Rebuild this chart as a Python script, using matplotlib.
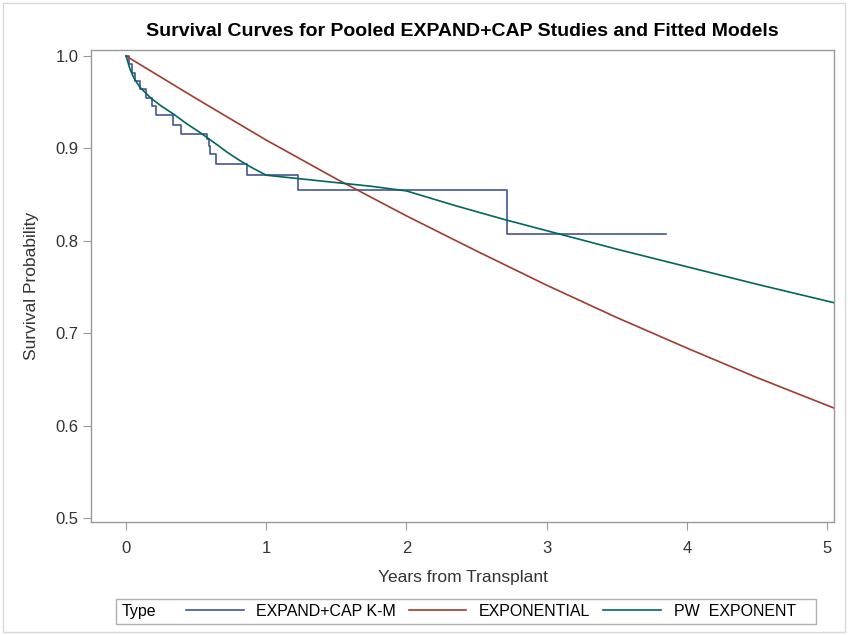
import numpy as np
import matplotlib
matplotlib.use("Agg")
import matplotlib.pyplot as plt
from matplotlib.patches import Rectangle
from matplotlib.lines import Line2D

plt.rcParams['font.family'] = ['Liberation Sans', 'DejaVu Sans']

# Kaplan-Meier estimate for the pooled studies (step changes)
km_years = [0.0, 0.02, 0.04, 0.065, 0.10, 0.145, 0.183, 0.217, 0.336, 0.395,
            0.574, 0.593, 0.60, 0.64, 0.86, 1.224, 2.717, 3.855]
km_surv = [1.000, 0.991, 0.982, 0.973, 0.964, 0.955, 0.946, 0.936, 0.925, 0.916,
           0.910, 0.903, 0.894, 0.883, 0.871, 0.855, 0.807, 0.807]

# fitted exponential model
exp_years = [0.0, 0.5, 1.0, 1.5, 2.0, 2.5, 3.0, 3.5, 4.0, 4.5, 5.05]
exp_surv = [1.000, 0.954, 0.909, 0.867, 0.827, 0.789, 0.752, 0.717, 0.684, 0.652, 0.619]

# fitted piecewise exponential model
pw_years = [0.0, 0.03, 0.06, 0.10, 0.18, 0.25, 0.34, 0.43, 0.52, 0.64, 0.72,
            0.81, 0.90, 1.0, 1.25, 1.5, 1.75, 2.0, 2.35, 2.7, 3.1, 3.5, 4.0,
            4.5, 5.05]
pw_surv = [1.000, 0.985, 0.975, 0.966, 0.954, 0.946, 0.937, 0.927, 0.918, 0.905,
           0.896, 0.887, 0.879, 0.871, 0.867, 0.863, 0.859, 0.854, 0.838, 0.823,
           0.807, 0.791, 0.772, 0.753, 0.733]

labels = ['EXPAND+CAP K-M', 'EXPONENTIAL', 'PW  EXPONENT']
colors = ['#445694', '#A23A2E', '#01665E']

W, H = 848, 635
fig = plt.figure(figsize=(W / 100, H / 100), dpi=100)
ax = fig.add_axes([91 / W, 1 - 522 / H, (834 - 91) / W, (522 - 50) / H])

ax.plot(km_years, km_surv, drawstyle='steps-post', color=colors[0], lw=1.2)
ax.plot(exp_years, exp_surv, color=colors[1], lw=1.2)
ax.plot(pw_years, pw_surv, color=colors[2], lw=1.2)

ax.set_xlim(-0.25, 5.05)
ax.set_ylim(0.4957, 1.0065)
ax.set_xticks(range(6))
ax.set_yticks([0.5, 0.6, 0.7, 0.8, 0.9, 1.0])
ax.set_yticklabels(['0.5', '0.6', '0.7', '0.8', '0.9', '1.0'])
ax.tick_params(direction='out', length=6, color='#999999', labelsize=12,
               labelcolor='#333333')
ax.tick_params(axis='x', pad=8)
ax.tick_params(axis='y', pad=3)
for s in ax.spines.values():
    s.set_color('#999999')
    s.set_linewidth(1.0)

ax.set_xlabel('Years from Transplant', fontsize=12.5, color='#333333', labelpad=10)
ax.set_ylabel('Survival Probability', fontsize=12.5, color='#333333', labelpad=12)
ax.set_title('Survival Curves for Pooled EXPAND+CAP Studies and Fitted Models',
             fontsize=14, fontweight='bold', pad=10)

# legend box along the bottom
fig.patches.append(Rectangle((116 / W, 1 - 624 / H), (816 - 116) / W, 25 / H,
                             transform=fig.transFigure, fill=False,
                             edgecolor='#b0b0b0', lw=1.0))
fig.text(122 / W, 1 - 611.5 / H, 'Type', fontsize=11.5, va='center', ha='left')
handles = [Line2D([], [], color=c, lw=1.2) for c in colors]
fig.legend(handles, labels, ncol=3, frameon=False, loc='center left',
           bbox_to_anchor=(186 / W, 1 - 611.5 / H), fontsize=11.5,
           handlelength=3.6, handletextpad=0.8, columnspacing=0.8,
           borderaxespad=0, borderpad=0)

# outer border of the graph area
fig.patches.append(Rectangle((3 / W, 3 / H), (W - 6) / W, (H - 6) / H,
                             transform=fig.transFigure, fill=False,
                             edgecolor='#d8d8d8', lw=1.0))

fig.savefig('out.png', dpi=100)
